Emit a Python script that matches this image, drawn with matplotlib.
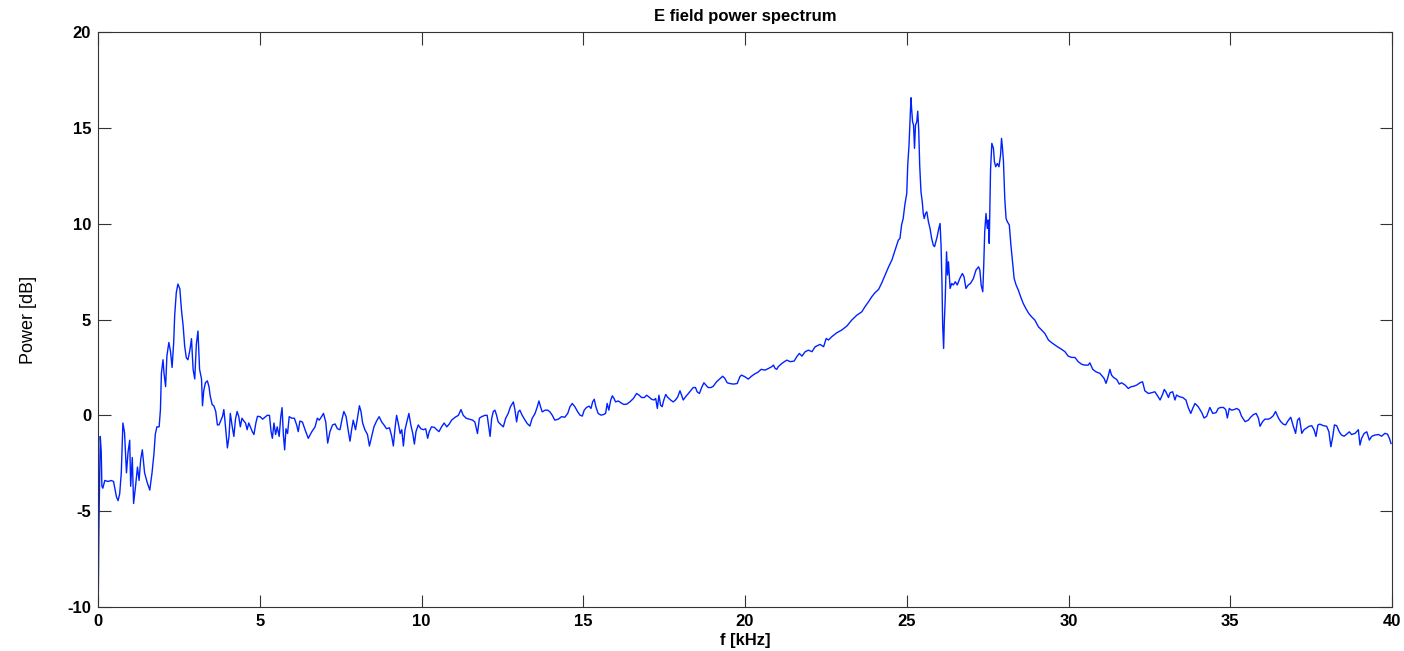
import numpy as np
import matplotlib
matplotlib.use('Agg')
import matplotlib.pyplot as plt

# values (f in kHz, power in dB)
f_low = [0.00, 0.03, 0.07, 0.10, 0.12, 0.15, 0.21, 0.31, 0.41, 0.48, 0.57, 0.62, 0.67, 0.72,
         0.77, 0.82, 0.88, 0.93, 0.98, 1.01, 1.06, 1.10, 1.16, 1.22, 1.27, 1.32, 1.37, 1.44,
         1.52, 1.60, 1.67, 1.73, 1.77, 1.82, 1.89, 1.93, 1.96, 2.01, 2.04, 2.09, 2.13, 2.19,
         2.24, 2.29, 2.34, 2.37, 2.42, 2.47, 2.53, 2.58, 2.63, 2.68, 2.73, 2.78, 2.84, 2.89,
         2.94, 2.99, 3.04, 3.09, 3.14, 3.20, 3.23, 3.27, 3.32, 3.38, 3.43, 3.47, 3.53, 3.58,
         3.64, 3.69, 3.74, 3.79, 3.85, 3.89, 3.92, 3.97, 4.00, 4.05, 4.09, 4.15, 4.20, 4.25,
         4.30, 4.35, 4.40, 4.45, 4.51, 4.56, 4.61, 4.66, 4.71, 4.77, 4.82, 4.88, 4.93]
p_low = [-11.0, -5.6, -1.1, -1.9, -3.7, -3.8, -3.4, -3.45, -3.4, -3.45, -4.25, -4.45, -4.1, -3.0,
         -0.4, -0.9, -3.0, -1.9, -1.3, -3.7, -2.2, -4.6, -3.7, -2.7, -3.4, -2.3, -1.8, -3.0,
         -3.5, -3.9, -3.0, -2.0, -1.0, -0.6, -0.6, 0.3, 2.2, 2.9, 2.2, 1.5, 3.1, 3.8,
         3.35, 2.5, 3.8, 5.2, 6.4, 6.85, 6.6, 5.5, 4.7, 3.6, 3.0, 2.9, 3.4, 4.0,
         2.4, 1.9, 3.7, 4.4, 2.4, 1.9, 0.5, 1.3, 1.7, 1.8, 1.5, 1.0, 0.55, 0.5,
         0.2, -0.5, -0.5, -0.3, -0.05, 0.3, -0.2, -1.1, -1.7, -1.1, 0.1, -0.6, -1.1, -0.2,
         0.2, -0.05, -0.6, -0.15, -0.3, -0.4, -0.75, -0.4, -0.6, -0.85, -1.0, -0.4, -0.05]

f_flat = [5.01, 5.09, 5.16, 5.23, 5.30, 5.35, 5.39, 5.44, 5.49, 5.54, 5.60, 5.65, 5.69, 5.73,
          5.77, 5.81, 5.86, 5.91, 5.99, 6.07, 6.14, 6.19, 6.24, 6.32, 6.40, 6.50, 6.61, 6.71,
          6.78, 6.84, 6.91, 6.97, 7.04, 7.10, 7.17, 7.25, 7.33, 7.40, 7.48, 7.55, 7.60, 7.67,
          7.74, 7.79, 7.84, 7.89, 7.96, 8.02, 8.08, 8.13, 8.18, 8.25, 8.33, 8.39, 8.46, 8.53,
          8.61, 8.69, 8.77, 8.84, 8.92, 9.01, 9.08, 9.13, 9.18, 9.23, 9.28, 9.34, 9.39, 9.44,
          9.49, 9.54, 9.61, 9.67, 9.73, 9.78, 9.83, 9.90, 9.98, 10.06, 10.13, 10.19, 10.24,
          10.31, 10.40, 10.47, 10.54, 10.62, 10.70, 10.78, 10.86, 10.93, 11.04, 11.14, 11.22,
          11.29, 11.38, 11.48, 11.58, 11.65, 11.73, 11.79, 11.86, 11.96, 12.03, 12.12, 12.17,
          12.22]
p_flat = [-0.07, -0.2, -0.1, 0.0, 0.0, -0.85, -1.2, -0.4, -1.0, -0.6, -1.1, -0.07, 0.4, -1.0,
          -1.8, -0.7, -0.95, -0.07, -0.15, -0.15, -0.5, -0.85, -0.3, -0.35, -0.75, -1.2, -0.85, -0.6,
          -0.15, -0.25, -0.07, 0.1, -0.35, -1.45, -0.85, -0.5, -0.45, -0.7, -0.75, -0.15, 0.2, -0.07,
          -0.85, -1.35, -0.75, -0.25, -0.75, -0.15, 0.5, 0.2, -0.4, -0.75, -1.0, -1.6, -1.1, -0.6,
          -0.3, -0.07, -0.35, -0.5, -0.7, -0.65, -1.1, -1.6, -0.7, 0.0, -0.4, -0.95, -0.75, -1.6,
          -0.75, -0.4, 0.1, -0.5, -0.95, -1.5, -0.85, -0.5, -0.7, -0.75, -0.7, -1.2, -0.85,
          -0.6, -0.63, -0.75, -0.85, -0.6, -0.4, -0.6, -0.45, -0.25, -0.1, 0.0, 0.3,
          0.0, -0.15, -0.2, -0.25, -0.35, -0.95, -0.15, -0.07, 0.0, 0.0, -1.1, -0.15,
          0.2]

f_rise = [12.27, 12.32, 12.37, 12.45, 12.53, 12.60, 12.68, 12.75, 12.84, 12.89, 12.94, 12.99,
          13.04, 13.11, 13.20, 13.27, 13.35, 13.42, 13.51, 13.58, 13.63, 13.68, 13.73, 13.82,
          13.90, 13.97, 14.04, 14.12, 14.23, 14.33, 14.43, 14.52, 14.59, 14.66, 14.74, 14.83,
          14.90, 14.97, 15.03, 15.10, 15.18, 15.24, 15.29, 15.34, 15.39, 15.46, 15.55, 15.62,
          15.69, 15.74, 15.79, 15.85, 15.90, 15.95, 16.00, 16.08, 16.17, 16.25, 16.34, 16.44,
          16.55, 16.65, 16.73, 16.80, 16.89, 16.96, 17.03, 17.11, 17.19, 17.24, 17.29, 17.34,
          17.39, 17.44, 17.49, 17.55, 17.60, 17.65, 17.70, 17.78, 17.85, 17.92, 17.99, 18.04,
          18.09, 18.16, 18.25, 18.33, 18.40, 18.47, 18.52, 18.59, 18.66, 18.73, 18.79, 18.86,
          18.95, 19.02, 19.12, 19.23, 19.31, 19.38, 19.45, 19.53, 19.64, 19.76, 19.84, 19.89,
          20.00, 20.10, 20.20, 20.29, 20.40, 20.50]
p_rise = [0.27, 0.01, -0.34, -0.48, -0.6, -0.16, 0.1, 0.45, 0.7, 0.27, -0.34, 0.18,
          0.27, 0.01, -0.25, -0.43, -0.56, -0.16, 0.1, 0.45, 0.75, 0.45, 0.18, 0.27,
          0.27, 0.18, 0.01, -0.25, -0.2, -0.07, -0.1, 0.1, 0.45, 0.62, 0.45, 0.18,
          0.01, -0.04, 0.27, 0.41, 0.48, 0.36, 0.7, 0.84, 0.45, 0.1, 0.01, 0.04,
          0.1, 0.62, 0.27, 0.8, 1.02, 0.88, 0.7, 0.75, 0.65, 0.57, 0.58, 0.7,
          0.88, 1.14, 1.05, 0.93, 0.93, 1.05, 0.96, 0.84, 0.8, 0.88, 0.36, 1.05,
          0.53, 0.45, 0.8, 1.09, 0.96, 0.88, 0.8, 0.7, 0.8, 0.96, 1.28, 1.05,
          0.8, 0.96, 1.14, 1.31, 1.45, 1.45, 1.23, 1.14, 1.45, 1.7, 1.58, 1.45,
          1.45, 1.52, 1.75, 1.92, 2.04, 1.92, 1.7, 1.66, 1.63, 1.66, 2.01, 2.1,
          2.01, 1.89, 2.04, 2.15, 2.25, 2.4]

f_peak1 = [20.62, 20.73, 20.83, 20.88, 20.93, 20.98, 21.03, 21.14, 21.29, 21.40, 21.52, 21.60,
           21.68, 21.76, 21.86, 21.96, 22.07, 22.17, 22.32, 22.43, 22.51, 22.58, 22.68, 22.84,
           22.99, 23.15, 23.30, 23.46, 23.61, 23.71, 23.82, 23.92, 24.02, 24.13, 24.23, 24.33,
           24.44, 24.54, 24.64, 24.74]
p_peak1 = [2.36, 2.45, 2.54, 2.62, 2.45, 2.4, 2.54, 2.71, 2.88, 2.8, 2.83, 3.06,
           3.23, 3.09, 3.32, 3.4, 3.32, 3.58, 3.7, 3.58, 4.01, 3.93, 4.1, 4.31,
           4.45, 4.66, 4.97, 5.23, 5.4, 5.67, 5.93, 6.19, 6.4, 6.57, 6.92, 7.32,
           7.75, 8.1, 8.62, 9.14]

f_peaks = [24.79, 24.84, 24.89, 24.94, 25.00, 25.03, 25.07, 25.10, 25.13, 25.15, 25.18, 25.21,
           25.24, 25.27, 25.31, 25.34, 25.37, 25.40, 25.44, 25.48, 25.51, 25.54, 25.58, 25.62,
           25.67, 25.72, 25.77, 25.82, 25.86, 25.90, 25.94, 25.99, 26.03, 26.06, 26.09, 26.11,
           26.14, 26.16, 26.19, 26.23, 26.26, 26.29, 26.34, 26.39, 26.44, 26.50, 26.56, 26.64,
           26.72, 26.77, 26.83, 26.90, 26.97, 27.06, 27.14, 27.22, 27.26, 27.30, 27.35, 27.38,
           27.41, 27.45, 27.49, 27.52, 27.55, 27.59, 27.63, 27.68, 27.71, 27.75, 27.80, 27.85,
           27.90, 27.93, 27.96, 27.99, 28.03, 28.07, 28.11, 28.17, 28.22, 28.27, 28.32, 28.38,
           28.45, 28.52, 28.60, 28.68, 28.77, 28.86]
p_peaks = [9.23, 9.93, 10.27, 10.97, 11.58, 13.05, 14.1, 15.4, 16.57, 16.01, 15.32, 15.14,
           13.93, 15.14, 15.32, 15.87, 14.88, 13.05, 11.66, 11.14, 10.53, 10.27, 10.53, 10.62,
           10.1, 9.75, 9.23, 8.88, 8.8, 9.06, 9.32, 9.75, 10.01, 8.88, 6.8, 4.71,
           3.49, 4.8, 6.1, 8.53, 7.32, 8.01, 6.62, 6.88, 6.8, 6.97, 6.8, 7.14,
           7.4, 7.23, 6.62, 6.8, 6.88, 7.14, 7.58, 7.75, 7.58, 6.8, 6.45, 7.84,
           9.58, 10.53, 9.75, 10.19, 8.97, 12.8, 14.19, 13.93, 13.23, 12.97, 13.14, 12.97,
           13.58, 14.45, 13.93, 13.23, 11.32, 10.27, 10.1, 9.93, 8.88, 8.01, 7.14, 6.8,
           6.53, 6.19, 5.84, 5.58, 5.32, 5.14]

f_tail = [28.96, 29.07, 29.17, 29.27, 29.38, 29.48, 29.63, 29.79, 29.89, 29.99, 30.10, 30.20,
          30.30, 30.41, 30.51, 30.61, 30.66, 30.75, 30.85, 30.97, 31.10, 31.16, 31.21, 31.28,
          31.33, 31.39, 31.49, 31.57, 31.64, 31.75, 31.85, 31.93, 32.02, 32.11, 32.21, 32.29,
          32.36, 32.47, 32.57, 32.67, 32.76, 32.83, 32.91, 32.96, 33.01, 33.09, 33.14, 33.22,
          33.29, 33.34, 33.43, 33.53, 33.63, 33.70, 33.78, 33.84, 33.91, 34.01, 34.12, 34.19,
          34.27, 34.37, 34.46, 34.56, 34.63, 34.70, 34.79, 34.86, 34.91, 34.97, 35.04, 35.12,
          35.20, 35.28, 35.35, 35.46, 35.56, 35.63, 35.71, 35.80, 35.87, 35.92, 36.00, 36.07,
          36.18, 36.25, 36.33, 36.40, 36.49, 36.56, 36.64, 36.71, 36.80, 36.87, 36.95, 37.02,
          37.08, 37.14, 37.21, 37.28, 37.36, 37.44, 37.52, 37.59, 37.65, 37.71, 37.77, 37.88,
          37.98, 38.05, 38.11, 38.17, 38.22, 38.29, 38.37, 38.44, 38.52, 38.60, 38.68, 38.75,
          38.86, 38.96, 39.01, 39.06, 39.14, 39.22, 39.30, 39.37, 39.47, 39.58, 39.68, 39.78,
          39.86, 39.92, 39.97]
p_tail = [4.97, 4.62, 4.45, 4.27, 3.93, 3.79, 3.61, 3.44, 3.32, 3.09, 3.02, 3.02,
          2.8, 2.66, 2.62, 2.62, 2.74, 2.4, 2.27, 2.19, 1.93, 1.67, 1.93, 2.4,
          2.1, 1.98, 1.87, 1.63, 1.7, 1.58, 1.4, 1.49, 1.52, 1.58, 1.7, 1.75,
          1.28, 1.14, 1.18, 1.23, 1.0, 0.8, 1.1, 1.35, 1.23, 0.93, 1.18, 1.23,
          0.8, 1.06, 0.97, 0.93, 0.8, 0.41, 0.1, 0.36, 0.62, 0.45, 0.14, -0.14,
          -0.05, 0.41, 0.1, 0.14, 0.36, 0.41, 0.41, 0.3, -0.14, 0.36, 0.27, 0.3,
          0.36, 0.27, -0.05, -0.33, -0.25, -0.1, 0.03, 0.1, -0.14, -0.57, -0.33, -0.2,
          -0.2, -0.14, -0.02, 0.2, -0.14, -0.33, -0.46, -0.5, -0.25, -0.1, -0.57, -0.94,
          -0.25, -0.14, -0.94, -0.75, -0.66, -0.57, -0.54, -0.75, -1.1, -0.5, -0.46, -0.54,
          -0.57, -0.86, -1.64, -1.1, -0.5, -0.54, -0.86, -1.03, -1.09, -0.98, -0.86, -1.0,
          -0.94, -0.75, -1.55, -1.2, -0.94, -0.86, -1.29, -1.1, -1.03, -1.0, -1.09, -0.94,
          -0.98, -1.2, -1.47]

freq = np.concatenate([f_low, f_flat, f_rise, f_peak1, f_peaks, f_tail])
power = np.concatenate([p_low, p_flat, p_rise, p_peak1, p_peaks, p_tail])

xticks = [0, 5, 10, 15, 20, 25, 30, 35, 40]
yticks = [-10, -5, 0, 5, 10, 15, 20]

plt.rcParams['font.family'] = ['Liberation Sans', 'DejaVu Sans']
plt.rcParams['axes.unicode_minus'] = False

fig = plt.figure(figsize=(14.04, 6.51), dpi=100)
ax = fig.add_axes([98 / 1404, 1 - 607 / 651, 1294 / 1404, 575 / 651])

ax.plot(freq, power, color='#0022ff', linewidth=1.0)

ax.set_xlim(0, 40)
ax.set_ylim(-10, 20)
ax.set_xticks(xticks)
ax.set_yticks(yticks)
ax.tick_params(direction='in', length=9, width=0.8, top=True, right=True,
               labelsize=12, pad=5, colors='#333333', labelcolor='black')
for lab in ax.get_xticklabels() + ax.get_yticklabels():
    lab.set_fontweight('bold')
for sp in ax.spines.values():
    sp.set_linewidth(0.8)
    sp.set_color('#333333')

ax.set_title('E field power spectrum', fontsize=12, fontweight='bold', pad=8)
ax.set_xlabel('f [kHz]', fontsize=12, fontweight='bold', labelpad=3)
ax.set_ylabel('Power [dB]', fontsize=13, labelpad=22)

fig.savefig('out.png', dpi=100)
